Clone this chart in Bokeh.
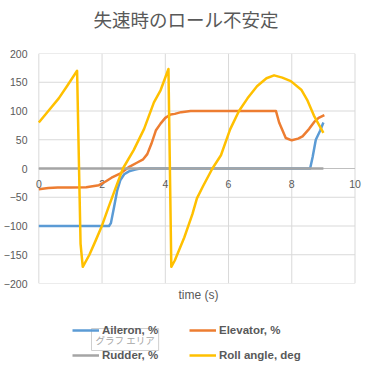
from bokeh.plotting import figure
from bokeh.layouts import column
from bokeh.models import Legend, LegendItem, Title, Label, FixedTicker
from bokeh.core.properties import value
from bokeh.embed import file_html
from bokeh.resources import INLINE

# ---- data ----
title_text = "失速時のロール不安定"
x_label = "time (s)"
xticks = [0, 2, 4, 6, 8, 10]
yticks = [-200, -150, -100, -50, 0, 50, 100, 150, 200]

aileron_t = [0, 2.22, 2.28, 2.38, 2.48, 2.58, 2.7, 2.85, 3.05, 3.2, 8.58, 8.66, 8.76, 8.9, 9.0]
aileron = [-100, -100, -95, -67, -38, -20, -10, -5, -2, 0, 0, 20, 50, 66, 80]

elevator_t = [0, 0.3, 0.6, 1.0, 1.5, 1.9, 2.1, 2.3, 2.6, 2.86, 3.1, 3.3, 3.43, 3.56, 3.7,
              3.85, 4.0, 4.17, 4.3, 4.5, 4.8, 7.5, 7.6, 7.81, 8.0, 8.2, 8.34, 8.55, 8.71, 8.85, 9.03]
elevator = [-36, -34, -33, -33, -32.5, -29, -23, -16, -8, 3, 10, 16, 25, 43, 66,
            78, 88, 94, 95, 98, 100, 100, 80, 53, 49, 52, 56, 69, 81, 88, 93]

rudder_t = [0, 9.0]
rudder = [0, 0]

roll_t = [0, 0.3, 0.63, 0.9, 1.21, 1.32, 1.39, 1.6, 1.8, 2.0, 2.2, 2.4, 2.66, 3.0, 3.33,
          3.64, 3.85, 4.1, 4.19, 4.3, 4.6, 4.86, 5.0, 5.2, 5.49, 5.76, 6.05, 6.33, 6.6, 6.9,
          7.2, 7.44, 7.7, 7.97, 8.3, 8.5, 8.7, 9.0]
roll = [80, 100, 122, 144, 170, -131, -171, -150, -125, -99, -68, -38, 0, 32, 69,
        115, 136, 173, -171, -160, -120, -79, -52, -30, 0, 23, 68, 100, 122, 143,
        157, 162, 158, 152, 137, 118, 92, 62]

series_names = ["Aileron, %", "Elevator, %", "Rudder, %", "Roll angle, deg"]
colors = ["#5B9BD5", "#ED7D31", "#A5A5A5", "#FFC000"]
tooltip_text = "グラフ エリア"

TXT = "#595959"
GRID = "#D9D9D9"
FONT = "Liberation Sans"
LW = 2.5
FRAME_LEFT = 32  # frames of the stacked figures are aligned on this edge

data_t = [aileron_t, elevator_t, rudder_t, roll_t]
data_v = [aileron, elevator, rudder, roll]

# ---- title strip ----
head = figure(width=371, height=40, x_range=(0, 1), y_range=(0, 1),
              output_backend="svg", toolbar_location=None,
              x_axis_location=None, y_axis_location=None,
              min_border=0, outline_line_color=None)
head.grid.visible = False
head.add_layout(Label(x=185.5 - FRAME_LEFT, y=22, x_units="screen", y_units="screen",
                      text=title_text, text_font="Noto Sans CJK JP", text_font_size="18.5px",
                      text_color=TXT, text_align="center", text_baseline="middle"))

# ---- main chart ----
p = figure(width=371, height=266, x_range=(-0.2, 10.3), y_range=(-200, 200),
           output_backend="svg", toolbar_location=None, x_axis_location=None,
           min_border_left=FRAME_LEFT, min_border_right=7, min_border_top=13, min_border_bottom=23,
           outline_line_color=None)
p.grid.visible = False

p.yaxis.ticker = FixedTicker(ticks=yticks)
p.yaxis.axis_line_color = None
p.yaxis.major_tick_line_color = None
p.yaxis.minor_tick_line_color = None
p.yaxis.major_tick_out = 0
p.yaxis.major_tick_in = 0
p.yaxis.major_label_standoff = 5
p.yaxis.major_label_text_font = FONT
p.yaxis.major_label_text_font_size = "10.5px"
p.yaxis.major_label_text_color = TXT

# gridlines of the plot area, from the tick lists
p.segment(x0=xticks, y0=[yticks[0]] * len(xticks), x1=xticks, y1=[yticks[-1]] * len(xticks),
          line_color=GRID, line_width=1)
p.segment(x0=[xticks[0]] * len(yticks), y0=yticks, x1=[xticks[-1]] * len(yticks), y1=yticks,
          line_color=GRID, line_width=1)
# horizontal axis line crossing at 0
p.segment(x0=[xticks[0]], y0=[0], x1=[xticks[-1]], y1=[0], line_color="#BFBFBF", line_width=1)

# x tick labels sitting under the zero line
p.text(x=xticks, y=[0] * len(xticks), text=[str(v) for v in xticks],
       text_font=value(FONT), text_font_size="10.5px", text_color=TXT,
       text_align="center", text_baseline="middle", y_offset=15)

xl = Title(text=x_label, align="center", text_font=FONT, text_font_size="12px",
           text_font_style="normal", text_color=TXT, standoff=4)
p.add_layout(xl, "below")

for tt, vv, c in zip(data_t, data_v, colors):
    p.line(tt, vv, line_color=c, line_width=LW, line_join="round")

# ---- legend strip ----
lg = figure(width=371, height=64, x_range=(100, 101), y_range=(1000, 1001),
            output_backend="svg", toolbar_location=None,
            x_axis_location=None, y_axis_location=None,
            min_border=0, outline_line_color=None)
lg.grid.visible = False

tip = Label(x=91 - FRAME_LEFT, y=31, x_units="screen", y_units="screen", text=tooltip_text,
            text_font="Noto Sans CJK JP", text_font_size="9.5px", text_color="#A6A6A6",
            text_baseline="middle",
            background_fill_color="white", background_fill_alpha=0.9,
            border_line_color="#CFCFCF", padding=4)
lg.add_layout(tip)

items = []
for n, tt, vv, c in zip(series_names, data_t, data_v, colors):
    r = lg.line(tt, vv, line_color=c, line_width=LW)   # outside this strip's ranges
    items.append(LegendItem(label=n, renderers=[r]))

legend = Legend(items=items, location=(72 - FRAME_LEFT, 7), orientation="horizontal", ncols=2,
                glyph_width=27, glyph_height=16, label_height=16, label_standoff=3,
                label_width=78, spacing=9, padding=0, margin=0,
                border_line_alpha=0, background_fill_alpha=0,
                label_text_font=FONT, label_text_font_size="11.5px",
                label_text_font_style="bold", label_text_color=TXT)
lg.add_layout(legend)

layout = column(head, p, lg, spacing=0)
open("out.html", "w").write(file_html(layout, INLINE))
